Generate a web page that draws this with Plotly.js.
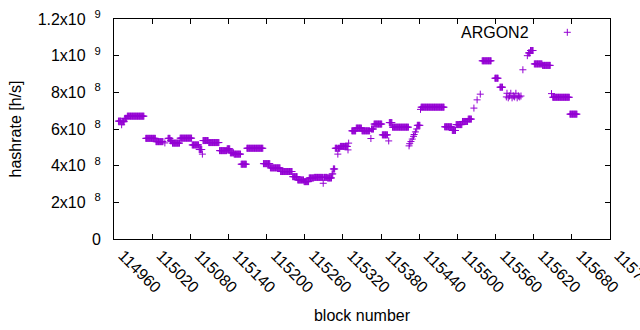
<!DOCTYPE html>
<html><head><meta charset="utf-8">
<script src="https://cdn.plot.ly/plotly-3.0.1.min.js"></script>
<style>html,body{margin:0;padding:0;background:#fff}</style>
</head><body><div id="chart" style="width:640px;height:330px"></div>
<script>
// Runs of consecutive blocks that share one hashrate reading
const runStart = [114967,114972,114973,114977,114981,115010,115026,115040,115045,115049,115052,115064,115083,115094,115099,115100,115109,115126,115138,115143,115149,115160,115169,115195,115206,115222,115241,115249,115259,115267,115275,115289,115290,115296,115303,115305,115308,115312,115313,115316,115328,115329,115334,115341,115350,115364,115365,115369,115382,115392,115393,115398,115424,115425,115427,115429,115431,115432,115434,115436,115437,115442,115443,115480,115492,115498,115508,115517,115526,115531,115536,115539,115559,115567,115577,115578,115580,115582,115584,115586,115588,115590,115592,115594,115596,115598,115600,115603,115610,115612,115615,115621,115634,115648,115650,115677];
const runEnd   = [114971,114972,114976,114980,115007,115025,115037,115040,115048,115051,115063,115082,115093,115098,115099,115108,115125,115137,115142,115148,115159,115168,115194,115205,115221,115240,115248,115258,115266,115274,115288,115289,115295,115302,115304,115307,115311,115312,115315,115327,115328,115329,115340,115349,115362,115364,115368,115381,115390,115392,115397,115423,115424,115425,115427,115429,115431,115432,115434,115436,115441,115442,115479,115491,115497,115507,115516,115522,115526,115531,115536,115553,115564,115571,115577,115578,115580,115582,115584,115586,115588,115590,115592,115594,115596,115598,115600,115603,115610,115614,115619,115633,115646,115648,115676,115688];
const runValue = [6.43e8,6.23e8,6.40e8,6.58e8,6.70e8,5.49e8,5.31e8,5.24e8,5.49e8,5.36e8,5.23e8,5.50e8,5.13e8,4.88e8,4.63e8,5.37e8,5.26e8,4.82e8,4.92e8,4.70e8,4.63e8,4.08e8,4.95e8,4.11e8,3.88e8,3.68e8,3.40e8,3.22e8,3.13e8,3.33e8,3.36e8,3.04e8,3.36e8,3.33e8,3.55e8,3.82e8,4.95e8,4.63e8,4.95e8,5.05e8,4.86e8,5.23e8,5.90e8,6.05e8,5.90e8,5.48e8,6.00e8,6.27e8,5.68e8,5.35e8,6.35e8,6.10e8,5.08e8,5.20e8,5.32e8,5.45e8,5.60e8,5.70e8,5.84e8,6.00e8,6.20e8,7.07e8,7.19e8,6.12e8,5.92e8,6.24e8,6.41e8,6.54e8,7.14e8,7.59e8,7.90e8,9.72e8,8.77e8,8.28e8,7.75e8,7.95e8,7.70e8,7.80e8,7.95e8,7.70e8,7.80e8,7.75e8,7.95e8,7.70e8,7.80e8,7.75e8,7.80e8,9.23e8,1.0e9,1.015e9,1.028e9,9.55e8,9.47e8,7.93e8,7.73e8,6.81e8];

const seriesName = "ARGON2";
const xTickVals = [114960,115020,115080,115140,115200,115260,115320,115380,115440,115500,115560,115620,115680,115740];
const xTickText = ["114960","115020","115080","115140","115200","115260","115320","115380","115440","115500","115560","115620","115680","115740"];
const yTickVals = [0,2e8,4e8,6e8,8e8,1e9,1.2e9];
const yTickText = ["0","2x10\u00a0\u00a0<sup>8</sup>","4x10\u00a0\u00a0<sup>8</sup>","6x10\u00a0\u00a0<sup>8</sup>","8x10\u00a0\u00a0<sup>8</sup>","1x10\u00a0\u00a0<sup>9</sup>","1.2x10\u00a0\u00a0<sup>9</sup>"];

const xs = [], ys = [];
for (let i = 0; i < runStart.length; i++) {
  for (let b = runStart[i]; b <= runEnd[i]; b++) { xs.push(b); ys.push(runValue[i]); }
}

const purple = '#9400D3';
const fontFam = '"Liberation Sans", Arial, sans-serif';
const trace = {
  type: 'scatter', mode: 'markers', x: xs, y: ys, name: seriesName,
  marker: {symbol: 'cross-thin', size: 5, color: purple, line: {width: 1, color: purple}},
  hoverinfo: 'skip'
};
const L = 114, R = 30, T = 19, B = 91, W = 640, H = 330;
const pw = W - L - R, ph = H - T - B;
const lx = (567.3 - L) / pw, ly = (H - B - 32.3) / ph;
const ax = 3.5 / pw, ay = 3.5 / ph;
const layout = {
  width: W, height: H,
  margin: {l: L, r: R, t: T, b: B, pad: 0},
  paper_bgcolor: '#fff', plot_bgcolor: '#fff',
  font: {family: fontFam, size: 16, color: '#000'},
  showlegend: false,
  xaxis: {
    range: [114960, 115740], tickmode: 'array', tickvals: xTickVals, ticktext: xTickText,
    tickangle: 45, ticks: 'inside', ticklen: 5, tickcolor: '#000', tickwidth: 1,
    showline: true, linecolor: '#000', linewidth: 1, mirror: 'ticks',
    showgrid: false, zeroline: false, tickfont: {size: 16},
    ticklabeloverflow: 'allow', ticklabelshift: 9, ticklabelstandoff: 0,
    title: {text: 'block number', font: {size: 16}, standoff: 14}
  },
  yaxis: {
    range: [0, 1.2e9], tickmode: 'array', tickvals: yTickVals, ticktext: yTickText,
    ticks: 'inside', ticklen: 5, tickcolor: '#000', tickwidth: 1,
    showline: true, linecolor: '#000', linewidth: 1, mirror: 'ticks',
    showgrid: false, zeroline: false, tickfont: {size: 16}, ticklabelstandoff: 9,
    ticklabeloverflow: 'allow',
    title: {text: 'hashrate [h/s]', font: {size: 16}, standoff: 12}
  },
  annotations: [{
    text: seriesName, xref: 'paper', yref: 'paper', x: (531 - L) / pw, y: ly,
    xanchor: 'right', yanchor: 'middle', showarrow: false, font: {size: 16, color: '#000'}
  }],
  shapes: [
    {type: 'line', xref: 'paper', yref: 'paper', x0: lx - ax, x1: lx + ax, y0: ly, y1: ly, line: {color: purple, width: 1}},
    {type: 'line', xref: 'paper', yref: 'paper', x0: lx, x1: lx, y0: ly - ay, y1: ly + ay, line: {color: purple, width: 1}}
  ]
};
Plotly.newPlot('chart', [trace], layout, {staticPlot: true, displayModeBar: false});
</script></body></html>
